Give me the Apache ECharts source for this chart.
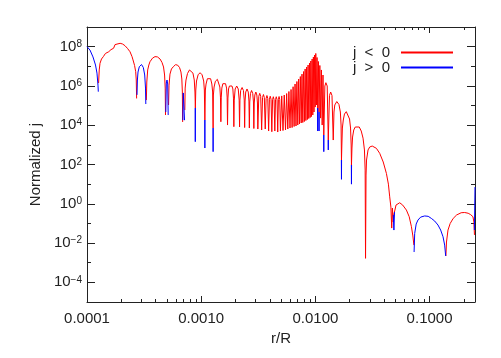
<!DOCTYPE html>
<html>
<head>
<meta charset="utf-8">
<script src="https://cdn.jsdelivr.net/npm/echarts@6/dist/echarts.min.js"></script>
<style>html,body{margin:0;background:#fff}#chart{width:501px;height:358px}</style>
</head>
<body>
<div id="chart"></div>
<script>
// [r/R, |j|] where j < 0 ; null = gap in the curve
const jNeg = [
  [1.263e-4, 1.4e6], [1.28e-4, 6.5e6], [1.30e-4, 1.42e7], [1.34e-4, 2.35e7], [1.39e-4, 3.1e7], [1.45e-4, 4.5e7],
  [1.55e-4, 5.5e7], [1.62e-4, 7.0e7], [1.71e-4, 8.3e7], [1.745e-4, 8.9e7], [1.76e-4, 1.27e8], [1.83e-4, 1.41e8],
  [1.95e-4, 1.48e8], [2.05e-4, 1.36e8], [2.15e-4, 1.12e8], [2.26e-4, 8.2e7], [2.38e-4, 5.5e7], [2.48e-4, 3.1e7],
  [2.53e-4, 2.1e7], [2.61e-4, 1.1e7], [2.67e-4, 5.3e6], [2.70e-4, 2.0e6], [2.72e-4, 2.3e5],
  null,
  [3.31e-4, 1.9e5], [3.34e-4, 1.58e6], [3.40e-4, 6.5e6], [3.48e-4, 1.16e7], [3.56e-4, 1.7e7], [3.75e-4, 2.6e7],
  [3.94e-4, 3.1e7], [4.14e-4, 3.0e7], [4.36e-4, 2.35e7], [4.54e-4, 1.56e7], [4.68e-4, 9.2e6], [4.78e-4, 3.6e6],
  [4.84e-4, 7.8e5], [4.87e-4, 3.3e4],
  null,
  [5.18e-4, 1.07e5], [5.23e-4, 1.1e6], [5.33e-4, 4.0e6], [5.49e-4, 7.3e6], [5.70e-4, 9.5e6], [5.95e-4, 1.2e7],
  [6.20e-4, 1.16e7], [6.46e-4, 8.7e6], [6.65e-4, 5.1e6], [6.77e-4, 2.25e6], [6.84e-4, 4.9e5], [6.88e-4, 1.46e4],
  null,
  [7.19e-4, 5.9e4], [7.24e-4, 7.8e5], [7.36e-4, 2.0e6], [7.59e-4, 4.3e6], [7.90e-4, 6.5e6], [8.19e-4, 6.2e6],
  [8.47e-4, 4.5e6], [8.70e-4, 2.0e6], [8.82e-4, 4.9e5], [8.89e-4, 7.5e4],
  [8.97e-4, 6.2e5], [9.10e-4, 1.78e6], [9.40e-4, 3.7e6], [9.78e-4, 4.7e6], [1.018e-3, 3.7e6], [1.052e-3, 1.78e6],
  [1.066e-3, 6.2e5], [1.077e-3, 1.84e4],
  [1.088e-3, 6.2e5], [1.103e-3, 1.25e6], [1.133e-3, 2.33e6], [1.170e-3, 2.94e6], [1.209e-3, 2.33e6], [1.240e-3, 1.25e6],
  [1.260e-3, 4.9e5], [1.272e-3, 7.2e3],
  [1.279e-3, 3.45e5], [1.297e-3, 8.8e5], [1.331e-3, 1.72e6], [1.386e-3, 2.17e6], [1.425e-3, 1.72e6], [1.457e-3, 8.8e5],
  [1.475e-3, 2.7e5], [1.487e-3, 1.5e4],
  [1.499e-3, 2.7e5], [1.517e-3, 7.8e5], [1.548e-3, 1.3e6], [1.591e-3, 1.64e6], [1.634e-3, 1.3e6], [1.668e-3, 7.8e5],
  [1.688e-3, 2.7e5], [1.701e-3, 1.02e4],
  [1.715e-3, 2.4e5], [1.736e-3, 7.0e5], [1.768e-3, 9.9e5], [1.814e-3, 1.25e6], [1.860e-3, 9.9e5], [1.894e-3, 7.0e5],
  [1.917e-3, 2.4e5], [1.932e-3, 8.4e3],
  [1.948e-3, 1.9e5], [1.984e-3, 7.0e5], [2.047e-3, 9.9e5], [2.112e-3, 7.0e5], [2.151e-3, 1.9e5], [2.168e-3, 8.1e3],
  [2.185e-3, 1.9e5], [2.217e-3, 5.85e5], [2.282e-3, 8.3e5], [2.345e-3, 5.85e5], [2.383e-3, 1.9e5], [2.402e-3, 7.6e3],
  [2.422e-3, 1.7e5], [2.456e-3, 4.9e5], [2.520e-3, 7.0e5], [2.584e-3, 4.9e5], [2.620e-3, 1.7e5], [2.641e-3, 7.2e3],
  [2.663e-3, 1.52e5], [2.700e-3, 4.1e5], [2.763e-3, 5.85e5], [2.828e-3, 4.1e5], [2.869e-3, 1.52e5], [2.892e-3, 6.8e3],
  [2.916e-3, 1.35e5], [2.951e-3, 3.45e5], [3.011e-3, 4.9e5], [3.072e-3, 3.45e5], [3.109e-3, 1.35e5], [3.134e-3, 6.4e3],
  [3.195e-3, 2.96e5], [3.256e-3, 4.2e5], [3.320e-3, 2.96e5], [3.384e-3, 5.7e3],
  [3.446e-3, 2.57e5], [3.509e-3, 3.66e5], [3.573e-3, 2.57e5], [3.639e-3, 6.4e3],
  [3.702e-3, 2.29e5], [3.765e-3, 3.25e5], [3.830e-3, 2.29e5], [3.896e-3, 5.06e3],
  [3.960e-3, 2.11e5], [4.024e-3, 2.99e5], [4.090e-3, 2.11e5], [4.155e-3, 4.66e3],
  [4.219e-3, 1.99e5], [4.283e-3, 2.82e5], [4.348e-3, 1.99e5], [4.414e-3, 5.06e3],
  [4.477e-3, 1.99e5], [4.544e-3, 2.82e5], [4.615e-3, 1.99e5], [4.680e-3, 4.5e3],
  [4.746e-3, 2.03e5], [4.809e-3, 2.89e5], [4.872e-3, 2.03e5], [4.941e-3, 5.06e3],
  [5.073e-3, 3.1e5], [5.207e-3, 5.37e3], [5.339e-3, 3.45e5], [5.476e-3, 5.7e3],
  [5.604e-3, 4.1e5], [5.735e-3, 6.4e3], [5.864e-3, 5.2e5], [5.995e-3, 7.2e3],
  [6.124e-3, 6.6e5], [6.255e-3, 7.6e3], [6.382e-3, 9.1e5], [6.511e-3, 8.6e3],
  [6.638e-3, 1.25e6], [6.765e-3, 9.1e3], [6.890e-3, 1.68e6], [7.015e-3, 1.02e4],
  [7.137e-3, 2.25e6], [7.260e-3, 1.15e4], [7.385e-3, 3.0e6], [7.513e-3, 1.3e4],
  [7.635e-3, 4.0e6], [7.759e-3, 1.37e4], [7.885e-3, 5.4e6], [8.013e-3, 1.54e4],
  [8.135e-3, 7.3e6], [8.259e-3, 1.73e4], [8.385e-3, 9.2e6], [8.512e-3, 1.95e4],
  [8.633e-3, 1.16e7], [8.756e-3, 2.19e4], [8.881e-3, 1.47e7], [9.005e-3, 2.47e4],
  [9.125e-3, 1.86e7], [9.246e-3, 2.77e4], [9.367e-3, 2.35e7], [9.492e-3, 3.3e4],
  [9.608e-3, 2.97e7], [9.724e-3, 4.7e4], [9.843e-3, 3.75e7], [9.963e-3, 8.4e4],
  [1.008e-2, 4.5e7], [1.021e-2, 1.07e5], [1.034e-2, 2.8e7], [1.048e-2, 7.5e4],
  [1.063e-2, 1.75e7], [1.077e-2, 4.7e4], [1.094e-2, 1.1e7], [1.110e-2, 2.3e4],
  [1.129e-2, 6.5e6], [1.147e-2, 1.02e4], [1.166e-2, 3.6e6], [1.185e-2, 3.17e3],
  [1.211e-2, 9.9e5], [1.236e-2, 1.46e6], [1.269e-2, 9.9e5], [1.297e-2, 1.76e3],
  [1.329e-2, 3.25e5], [1.361e-2, 4.9e5], [1.398e-2, 3.25e5], [1.434e-2, 1.76e3],
  [1.455e-2, 4.7e4], [1.479e-2, 1.07e5], [1.540e-2, 1.6e5], [1.609e-2, 1.13e5], [1.655e-2, 4.7e4], [1.679e-2, 1.02e4],
  [1.693e-2, 169],
  [1.706e-2, 980], [1.724e-2, 7.2e3], [1.756e-2, 1.84e4], [1.798e-2, 3.7e4], [1.865e-2, 4.9e4], [1.933e-2, 3.9e4],
  [1.992e-2, 2.07e4], [2.033e-2, 7.2e3], [2.058e-2, 980], [2.070e-2, 94],
  [2.091e-2, 690], [2.117e-2, 2.5e3], [2.168e-2, 5.7e3], [2.235e-2, 8.1e3], [2.317e-2, 9.4e3], [2.423e-2, 8.1e3],
  [2.522e-2, 5.06e3], [2.615e-2, 2.2e3], [2.690e-2, 550], [2.728e-2, 52], [2.750e-2, 1.67e-3],
  [2.778e-2, 29], [2.806e-2, 169], [2.892e-2, 550], [2.992e-2, 780], [3.147e-2, 870], [3.424e-2, 665],
  [3.660e-2, 370], [3.928e-2, 134], [4.189e-2, 35], [4.361e-2, 10], [4.477e-2, 2.26], [4.586e-2, 0.68],
  [4.661e-2, 0.058], [4.727e-2, 0.61], [4.804e-2, 0.118], [4.873e-2, 0.3], [4.972e-2, 0.48], [5.083e-2, 0.86],
  [5.260e-2, 1.05], [5.476e-2, 1.13], [5.818e-2, 0.86], [6.268e-2, 0.48], [6.632e-2, 0.22], [6.938e-2, 0.068],
  [7.145e-2, 0.023], [7.291e-2, 0.0079],
  null,
  [0.1390, 0.0022], [0.1407, 0.0113], [0.1450, 0.046], [0.1515, 0.099], [0.1610, 0.18], [0.1727, 0.27],
  [0.1891, 0.35], [0.2030, 0.36], [0.2178, 0.33], [0.2290, 0.28], [0.2398, 0.22], [0.2445, 0.118], [0.2473, 0.026]
];

// [r/R, j] where j > 0 ; null = gap
const jPos = [
  [1.00e-4, 1.0e8], [1.062e-4, 6.7e7], [1.128e-4, 3.0e7], [1.187e-4, 1.16e7], [1.223e-4, 4.5e6], [1.248e-4, 1.1e6],
  [1.256e-4, 5.1e5],
  null,
  [2.741e-4, 3.5e5], [2.763e-4, 2.0e6], [2.797e-4, 5.1e6], [2.871e-4, 9.5e6], [3.002e-4, 1.23e7], [3.113e-4, 8.7e6],
  [3.202e-4, 3.6e6], [3.254e-4, 7.8e5], [3.274e-4, 1.2e5],
  null,
  [4.90e-4, 4.7e4], [4.95e-4, 1.4e6], [5.02e-4, 2.0e6], [5.09e-4, 1.25e6], [5.14e-4, 3.3e4],
  null,
  [6.91e-4, 1.8e4], [6.97e-4, 4.4e5], [7.04e-4, 5.5e5], [7.11e-4, 3.5e5], [7.15e-4, 1.8e4],
  null,
  [8.86e-4, 7.5e4], [8.88e-4, 1.45e3], [8.90e-4, 7.5e4],
  null,
  [1.075e-3, 1.84e4], [1.077e-3, 690], [1.079e-3, 1.84e4],
  null,
  [1.270e-3, 7.2e3], [1.272e-3, 450], [1.274e-3, 7.2e3],
  null,
  [1.046e-2, 7.5e4], [1.048e-2, 5.06e3], [1.050e-2, 7.5e4],
  null,
  [1.075e-2, 4.7e4], [1.077e-2, 5.06e3], [1.079e-2, 4.7e4],
  null,
  [1.183e-2, 3.17e3], [1.185e-2, 450], [1.187e-2, 3.17e3],
  null,
  [1.294e-2, 1.76e3], [1.297e-2, 550], [1.300e-2, 1.76e3],
  null,
  [1.689e-2, 169], [1.693e-2, 17.6], [1.696e-2, 169],
  null,
  [2.066e-2, 94], [2.070e-2, 10], [2.074e-2, 94],
  null,
  [4.814e-2, 0.27], [4.873e-2, 0.046], [4.932e-2, 0.38],
  null,
  [7.32e-2, 0.0035], [7.409e-2, 0.031], [7.636e-2, 0.093], [7.918e-2, 0.149], [8.361e-2, 0.21], [9.062e-2, 0.24],
  [9.725e-2, 0.23], [0.1037, 0.18], [0.1109, 0.132], [0.1185, 0.083], [0.1251, 0.046], [0.1312, 0.021],
  [0.1356, 0.0079], [0.1384, 0.0022],
  null,
  [0.2470, 0.046], [0.2500, 7.1]
];

const xRange = [1e-4, 0.25];
const yRange = [1e-5, 1e9];
const xMajor = [1e-4, 1e-3, 1e-2, 1e-1];
const xMinor = [2e-4, 3e-4, 4e-4, 5e-4, 6e-4, 7e-4, 8e-4, 9e-4,
  2e-3, 3e-3, 4e-3, 5e-3, 6e-3, 7e-3, 8e-3, 9e-3,
  2e-2, 3e-2, 4e-2, 5e-2, 6e-2, 7e-2, 8e-2, 9e-2, 2e-1];
const yMajor = [1e-4, 1e-2, 1, 1e2, 1e4, 1e6, 1e8];
const yMinor = [1e-3, 1e-1, 1e1, 1e3, 1e5, 1e7];
const legendNames = ['j  <  0', 'j  >  0'];

const FONT = 'Liberation Sans';
const INK = '#222';

function toData(list) {
  return list.map(p => p ? p : ['-', '-']);
}

function supLabel(v) {
  const e = Math.round(Math.log10(v));
  return '{b|10}{s|' + (e < 0 ? '\u2212' + (-e) : e) + '}';
}

function axis(kind, grid, pos, ticks, len, showLine) {
  const range = kind === 'x' ? xRange : yRange;
  return {
    type: 'log',
    logBase: 10,
    gridIndex: grid,
    position: pos,
    min: range[0],
    max: range[1],
    axisLine: { show: showLine, onZero: false, lineStyle: { color: INK, width: 1 } },
    axisTick: { show: true, inside: true, length: len, customValues: ticks, lineStyle: { color: INK, width: 1 } },
    axisLabel: { show: false },
    splitLine: { show: false },
    minorTick: { show: false }
  };
}

const xBottom = axis('x', 0, 'bottom', xMajor, 6, true);
xBottom.axisLabel = {
  show: true, customValues: xMajor, margin: 9,
  fontFamily: FONT, fontSize: 15, color: INK,
  formatter: v => v.toFixed(4)
};
xBottom.name = 'r/R';
xBottom.nameLocation = 'middle';
xBottom.nameGap = 27;
xBottom.nameTextStyle = { fontFamily: FONT, fontSize: 15, color: INK };

const yLeft = axis('y', 0, 'left', yMajor, 8, true);
yLeft.axisLabel = {
  show: true, customValues: yMajor, margin: 5,
  formatter: supLabel,
  rich: {
    b: { fontFamily: FONT, fontSize: 15, color: INK },
    s: { fontFamily: FONT, fontSize: 10, color: INK, verticalAlign: 'top' }
  }
};
yLeft.name = 'Normalized j';
yLeft.nameLocation = 'middle';
yLeft.nameGap = 44;
yLeft.nameTextStyle = { fontFamily: FONT, fontSize: 15, color: INK };

const chart = echarts.init(document.getElementById('chart'), null, { renderer: 'canvas' });
chart.setOption({
  animation: false,
  backgroundColor: '#fff',
  grid: [
    { left: 87, right: 26, top: 27, bottom: 56, containLabel: false, outerBoundsMode: 'none' },
    { left: 87, right: 26, top: 27, bottom: 56, containLabel: false, outerBoundsMode: 'none' }
  ],
  xAxis: [
    xBottom,
    axis('x', 0, 'top', xMajor, 6, true),
    axis('x', 1, 'bottom', xMinor, 3, false),
    axis('x', 1, 'top', xMinor, 3, false)
  ],
  yAxis: [
    yLeft,
    axis('y', 0, 'right', yMajor, 8, true),
    axis('y', 1, 'left', yMinor, 4, false),
    axis('y', 1, 'right', yMinor, 4, false)
  ],
  legend: {
    orient: 'vertical',
    right: 48,
    top: 45,
    padding: 0,
    align: 'right',
    icon: 'rect',
    itemWidth: 52,
    itemHeight: 2,
    itemGap: 0,
    textStyle: { fontFamily: FONT, fontSize: 15, color: INK, lineHeight: 14, padding: [0, 6, 0, 0] },
    data: legendNames
  },
  series: [
    {
      name: legendNames[0], type: 'line', xAxisIndex: 0, yAxisIndex: 0,
      data: toData(jNeg), symbol: 'none', connectNulls: false, silent: true,
      lineStyle: { color: '#ff0000', width: 1 }, itemStyle: { color: '#ff0000' }
    },
    {
      name: legendNames[1], type: 'line', xAxisIndex: 0, yAxisIndex: 0,
      data: toData(jPos), symbol: 'none', connectNulls: false, silent: true,
      lineStyle: { color: '#0000ff', width: 1 }, itemStyle: { color: '#0000ff' }
    }
  ]
});
</script>
</body>
</html>
